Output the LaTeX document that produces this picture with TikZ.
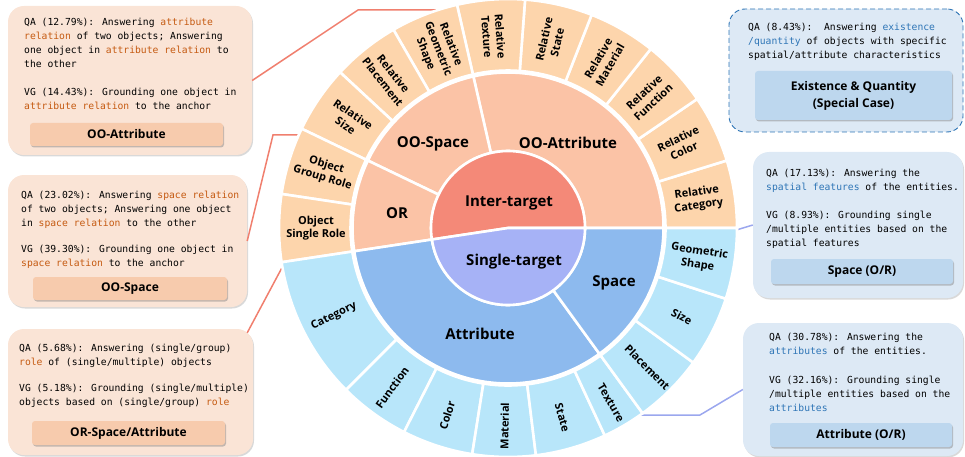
\documentclass[tikz,border=0pt]{standalone}
\usepackage{fontspec}
\setmainfont{Open Sans}
\newfontfamily\boxmono{DejaVu Sans Mono}
\usetikzlibrary{shadows,calc}
\definecolor{cInter}{HTML}{F48978}
\definecolor{cSingle}{HTML}{A6B2F6}
\definecolor{cOO}{HTML}{FBC3A6}
\definecolor{cOOout}{HTML}{FDD5AC}
\definecolor{cAt}{HTML}{8DBAEE}
\definecolor{cAtout}{HTML}{B8E6FA}
\definecolor{lfill}{HTML}{FAE4D6}
\definecolor{llab}{HTML}{F7CBAD}
\definecolor{bfill}{HTML}{DDE9F5}
\definecolor{blab}{HTML}{BDD7EE}
\definecolor{hlor}{HTML}{C55A11}
\definecolor{hlbl}{HTML}{2E75B6}
\definecolor{colOL}{HTML}{F07F6E}
\definecolor{colBL}{HTML}{9BA7EE}
\definecolor{dashb}{HTML}{2E75B6}
\newcommand\hor[1]{\textcolor{hlor}{#1}}
\newcommand\hbl[1]{\textcolor{hlbl}{#1}}
\newcommand\ringseg[5]{\filldraw[fill=#5,draw=white,line width=2.6pt] (#3:#1) arc[start angle=#3,end angle=#4,radius=#1] -- (#4:#2) arc[start angle=#4,end angle=#3,radius=#2] -- cycle;}
\begin{document}
\begin{tikzpicture}[x=1pt,y=1pt,
  obox/.style={rounded corners=16pt, fill=lfill, inner sep=0pt,
    drop shadow={shadow xshift=1pt, shadow yshift=-1.5pt, opacity=0.3}},
  bbox/.style={rounded corners=16pt, fill=bfill, inner sep=0pt,
    drop shadow={shadow xshift=1pt, shadow yshift=-1.5pt, opacity=0.3}},
  dbox/.style={rounded corners=16pt, fill=bfill, inner sep=0pt, draw=dashb,
    line width=0.9pt, dash pattern=on 5pt off 3pt},
  olab/.style={rounded corners=3pt, fill=llab, inner sep=0pt,
    drop shadow={shadow xshift=1pt, shadow yshift=-1.5pt, opacity=0.45},
    font=\bfseries\fontsize{12}{17}\selectfont, align=center},
  blabs/.style={olab, fill=blab},
  qtext/.style={anchor=north west, inner sep=0pt, align=left,
    font=\boxmono\fontsize{9.7}{14}\selectfont},
  orline/.style={draw=colOL, line width=1.5pt},
  blline/.style={draw=colBL, line width=1.5pt},
  seglab/.style={font=\bfseries\fontsize{11}{13.5}\selectfont, align=center, inner sep=0pt},
  midlab/.style={font=\bfseries\fontsize{15}{17}\selectfont, inner sep=0pt}]
\useasboundingbox (0,0) rectangle (965,-457);

% ---------- boxes ----------
\node[obox, minimum width=244pt, minimum height=149pt] (b1) at (130,-80.5) {};
\node[obox, minimum width=239pt, minimum height=132pt] (b2) at (127.5,-241) {};
\node[obox, minimum width=245pt, minimum height=126pt] (b3) at (130.5,-392) {};
\node[dbox, minimum width=234pt, minimum height=123pt] (b4) at (846,-70.5) {};
\node[bbox, minimum width=210pt, minimum height=146pt] (b5) at (858,-225) {};
\node[bbox, minimum width=220pt, minimum height=133pt] (b6) at (853,-389.5) {};

\node[olab, minimum width=193pt, minimum height=23pt] (l1) at (126.5,-134.5) {OO-Attribute};
\node[olab, minimum width=194pt, minimum height=23pt] (l2) at (130,-288.5) {OO-Space};
\node[olab, minimum width=193pt, minimum height=24pt] (l3) at (128.5,-433) {OR-Space/Attribute};
\node[blabs, minimum width=197pt, minimum height=49pt] (l4) at (853.5,-95.5) {Existence \& Quantity\\(Special Case)};
\node[blabs, minimum width=182pt, minimum height=25pt] (l5) at (862,-271.5) {Space (O/R)};
\node[blabs, minimum width=182pt, minimum height=24pt] (l6) at (861,-435) {Attribute (O/R)};

% ---------- box texts ----------
\node[qtext] (t1a) at (24,-15.4) {\strut QA (12.79\%): Answering \hor{attribute}\\\hor{relation} of two objects; Answering\\one object in \hor{attribute relation} to\\the other};
\node[qtext] (t1b) at (24,-85.4) {\strut VG (14.43\%): Grounding one object in\\\hor{attribute relation} to the anchor};
\node[qtext] (t2a) at (21,-188) {\strut QA (23.02\%): Answering \hor{space relation}\\of two objects; Answering one object\\in \hor{space relation} to the other};
\node[qtext] (t2b) at (21,-242) {\strut VG (39.30\%): Grounding one object in\\\hor{space relation} to the anchor};
\node[qtext] (t3a) at (19,-341) {\strut QA (5.68\%): Answering (single/group)\\\hor{role} of (single/multiple) objects};
\node[qtext] (t3b) at (19,-381) {\strut VG (5.18\%): Grounding (single/multiple)\\objects based on (single/group) \hor{role}};
\node[qtext] (t4a) at (748,-20.4) {\strut QA (8.43\%):\ \ Answering \hbl{existence}\\\hbl{/quantity} of objects with specific\\spatial/attribute characteristics};
\node[qtext] (t5a) at (766,-166.4) {\strut QA (17.13\%): Answering the\\\hbl{spatial features} of the entities.};
\node[qtext] (t5b) at (766,-208) {\strut VG (8.93\%): Grounding single\\/multiple entities based on the\\spatial features};
\node[qtext] (t6a) at (769,-330.4) {\strut QA (30.78\%): Answering the\\\hbl{attributes} of the entities.};
\node[qtext] (t6b) at (769,-373.7) {\strut VG (32.16\%): Grounding single\\/multiple entities based on the\\\hbl{attributes}};

% ---------- connectors (drawn under the sunburst) ----------
\coordinate (k1) at (358,-10);
\coordinate (pOOA) at (458,-10);
\coordinate (k2) at (273,-135);
\coordinate (pOOS) at (306,-135);
\coordinate (pOR) at (285,-262);
\coordinate (pSp) at (733,-231);
\coordinate (pAt) at (637,-415);
\coordinate (k5) at (700,-415);
\draw[orline] (b1.east) -- (k1) -- (pOOA);
\draw[orline] (b2.east) -- (k2) -- (pOOS);
\draw[orline] ($(b3.north east)+(-6,-4)$) -- (pOR);
\draw[blline] (pSp) -- (b5.west);
\draw[blline] (pAt) -- (k5) -- (b6.west);

% ---------- sunburst ----------
\begin{scope}[shift={(508,-228)}]
\foreach \k in {0,...,10} {%
  \pgfmathsetmacro\aa{\k*17.145}%
  \pgfmathsetmacro\bb{(\k+1)*17.145}%
  \ringseg{157.5}{229}{\aa}{\bb}{cOOout}}
\foreach \aa/\bb in {188.6/225,225/243,243/261,261/277,277/295,295/306,306/324,324/342,342/360} {%
  \ringseg{157.5}{229}{\aa}{\bb}{cAtout}}
\ringseg{77}{155.5}{0}{102.87}{cOO}
\ringseg{77}{155.5}{102.87}{154.3}{cOO}
\ringseg{77}{155.5}{154.3}{188.6}{cOO}
\ringseg{77}{155.5}{188.6}{306}{cAt}
\ringseg{77}{155.5}{306}{360}{cAt}
\filldraw[fill=cInter,draw=white,line width=2.6pt] (0,0) -- (0:77) arc[start angle=0,end angle=188.6,radius=77] -- cycle;
\filldraw[fill=cSingle,draw=white,line width=2.6pt] (0,0) -- (188.6:77) arc[start angle=188.6,end angle=360,radius=77] -- cycle;

% outer labels, inter-target
\node[seglab, rotate=8.57]  (s1)  at (8.57:192)  {Relative\\Category};
\node[seglab, rotate=25.7]  (s2)  at (25.7:192)  {Relative\\Color};
\node[seglab, rotate=42.9]  (s3)  at (42.9:192)  {Relative\\Function};
\node[seglab, rotate=60.0]  (s4)  at (60.0:192)  {Relative\\Material};
\node[seglab, rotate=77.2]  (s5)  at (77.2:192)  {Relative\\State};
\node[seglab, rotate=-85.7] (s6)  at (94.3:192)  {Relative\\Texture};
\node[seglab, rotate=-68.6] (s7)  at (111.4:192) {Relative\\Geometric\\Shape};
\node[seglab, rotate=-51.4] (s8)  at (128.6:192) {Relative\\Placement};
\node[seglab, rotate=-34.3] (s9)  at (145.7:192) {Relative\\Size};
\node[seglab, rotate=-17.1] (s10) at (162.9:192) {Object\\Group Role};
\node[seglab, rotate=0]     (s11) at (180.0:192) {Object\\Single Role};
% outer labels, single-target
\node[seglab, rotate=26.8]  (u1) at (206.8:195) {Category};
\node[seglab, rotate=54]    (u2) at (234:197)   {Function};
\node[seglab, rotate=72]    (u3) at (252:197)   {Color};
\node[seglab, rotate=89]    (u4) at (269:198)   {Material};
\node[seglab, rotate=-74]   (u5) at (286:197)   {State};
\node[seglab, rotate=-59.5] (u6) at (300.5:203) {Texture};
\node[seglab, rotate=-45]   (u7) at (315:197)   {Placement};
\node[seglab, rotate=-27]   (u8) at (333:195)   {Size};
\node[seglab, rotate=-9]    (u9) at (351:193)   {Geometric\\Shape};
\end{scope}

% middle and centre labels
\node[midlab] (m1) at (568,-143) {OO-Attribute};
\node[midlab] (m2) at (433,-144) {OO-Space};
\node[midlab] (m3) at (397,-213) {OR};
\node[midlab] (m4) at (480,-334) {Attribute};
\node[midlab] (m5) at (614,-283) {Space};
\node[midlab] (c1) at (509,-203) {Inter-target};
\node[midlab] (c2) at (514,-262) {Single-target};
\end{tikzpicture}
\end{document}
